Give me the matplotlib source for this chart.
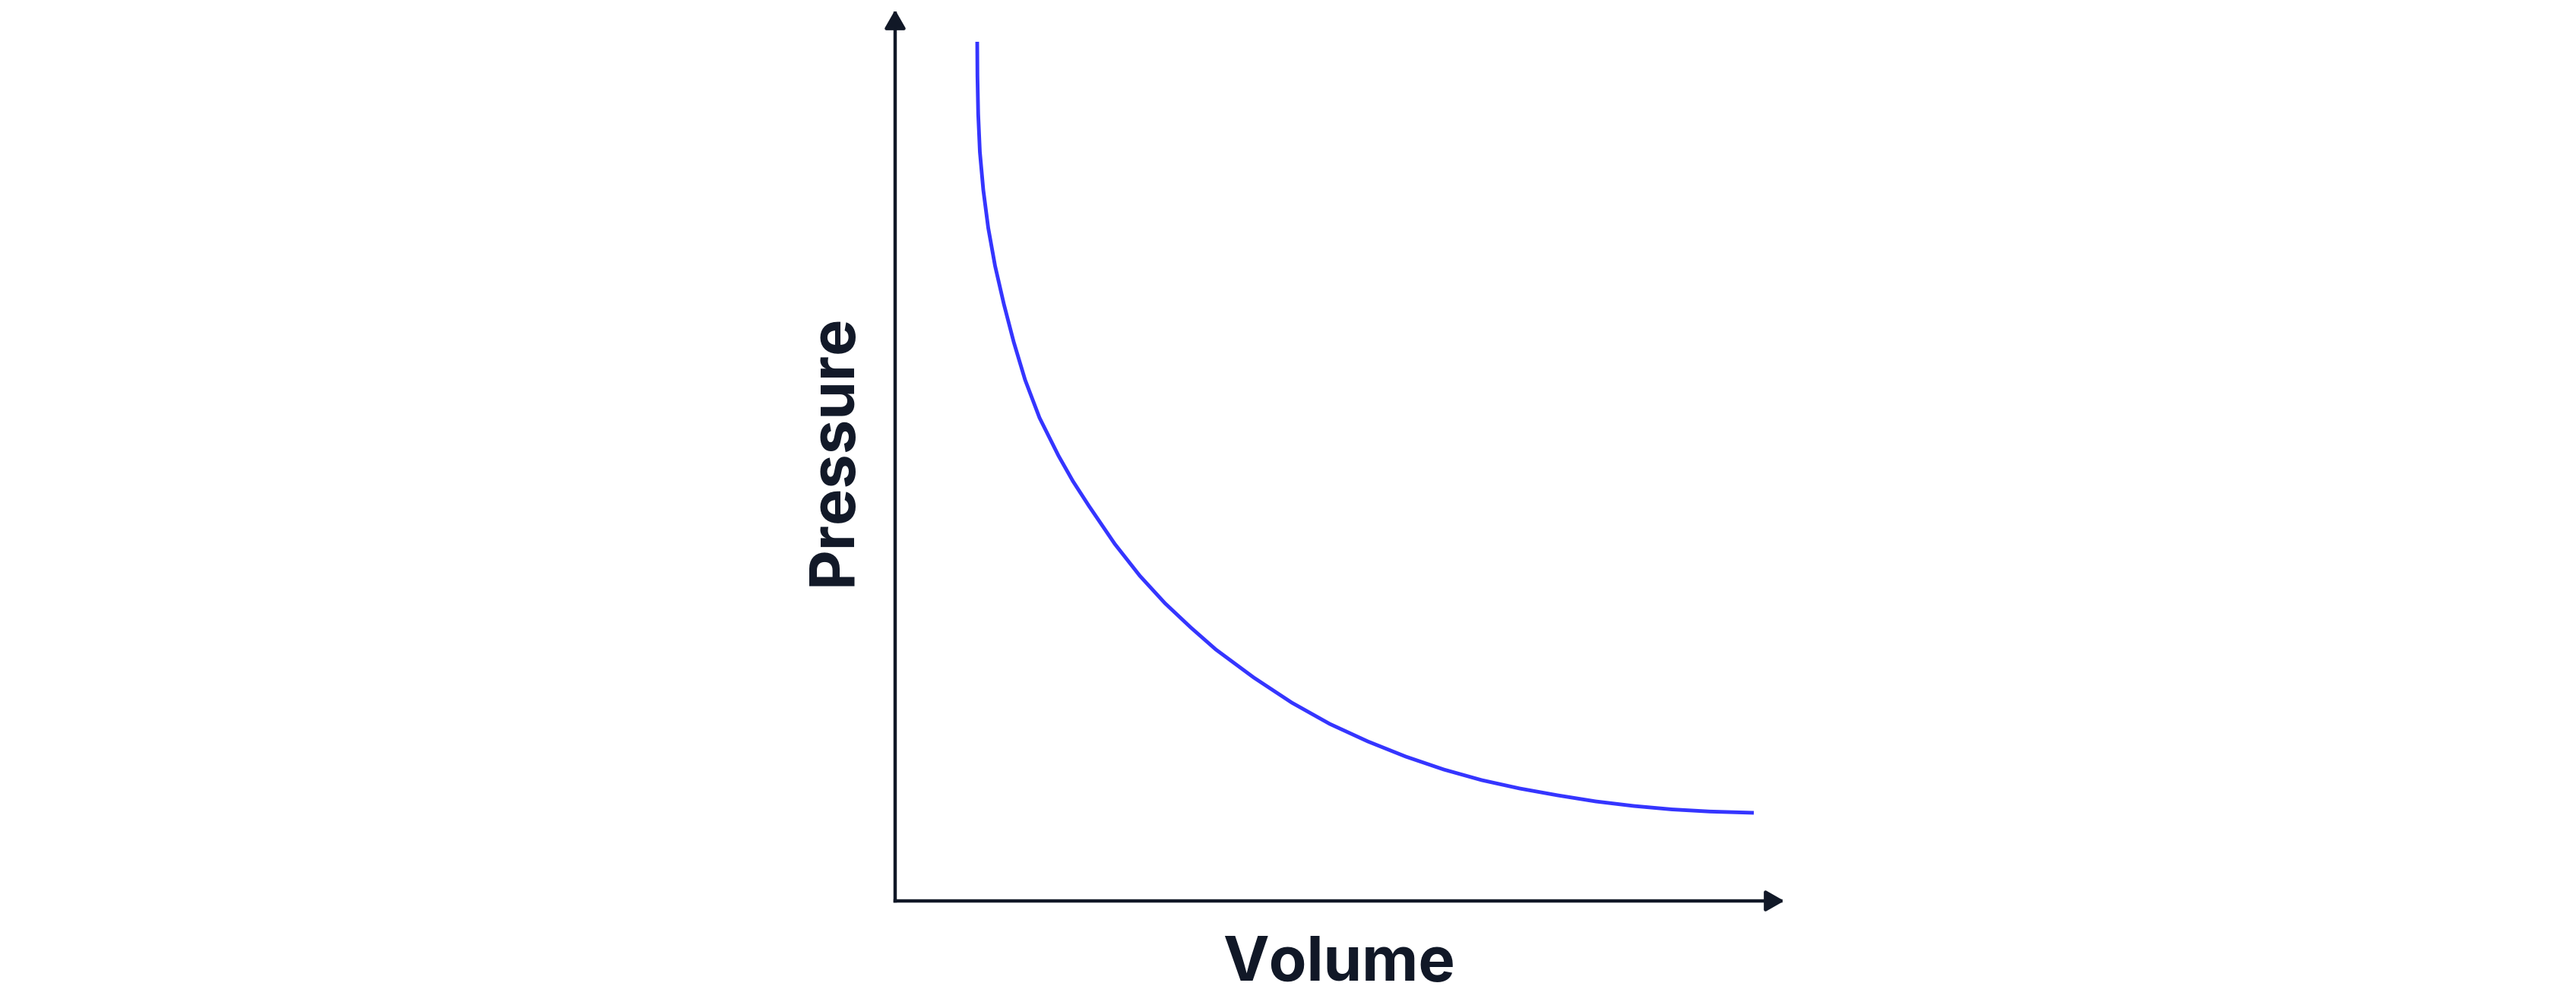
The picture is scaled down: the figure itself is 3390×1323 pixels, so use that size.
import matplotlib
matplotlib.use("Agg")
import matplotlib.pyplot as plt

# Data (arbitrary units)
volume = [1.080, 1.083, 1.093, 1.115, 1.160, 1.225, 1.315, 1.430, 1.560, 1.710,
          1.900, 2.150, 2.340, 2.550, 2.890, 3.220, 3.550, 3.890, 4.220, 4.720,
          5.220, 5.720, 6.220, 6.720, 7.220, 7.720, 8.220, 8.720, 9.220, 9.720,
          10.220, 10.720, 11.300]
pressure = [11.310, 10.860, 10.360, 9.860, 9.360, 8.860, 8.360, 7.860, 7.360, 6.860,
            6.360, 5.860, 5.525, 5.200, 4.700, 4.280, 3.920, 3.600, 3.310, 2.940,
            2.610, 2.330, 2.100, 1.900, 1.730, 1.590, 1.480, 1.390, 1.310, 1.250,
            1.205, 1.177, 1.160]
x_label = "Volume"
y_label = "Pressure"

W, H = 3390, 1323
dpi = 100
fig = plt.figure(figsize=(W / dpi, H / dpi), dpi=dpi)
fig.patch.set_facecolor("white")

ink = "#111827"
blue = "#3535ff"

# axes: origin at (1178, 1186) px from top-left; arrow tips at x=2348, y=13
left, bottom = 1178 / W, (H - 1186) / H
right, top = 2348 / W, (H - 13) / H
ax = fig.add_axes([left, bottom, right - left, top - bottom])
ax.set_xlim(0, (2348 - 1178) / 100)
ax.set_ylim(0, (1186 - 13) / 100)
ax.axis("off")

ax.plot(volume, pressure, color=blue, lw=3.5, solid_capstyle="butt",
        solid_joinstyle="round", antialiased=True, zorder=3)

arrow_kw = dict(arrowstyle="-|>,head_length=14.5,head_width=8.3",
                mutation_scale=1, lw=3.2, color=ink, shrinkA=0, shrinkB=0,
                capstyle="projecting")
ax.annotate("", xy=(1, 0), xytext=(0, 0), xycoords="axes fraction",
            textcoords="axes fraction", arrowprops=arrow_kw)
ax.annotate("", xy=(0, 1), xytext=(0, 0), xycoords="axes fraction",
            textcoords="axes fraction", arrowprops=arrow_kw)

font = dict(family=["Inter", "DejaVu Sans"], fontweight="bold",
            fontsize=58.5, color=ink)
fig.text(1762 / W, (H - 1291) / H, x_label, ha="center", va="baseline", **font)
fig.text(1120 / W, (H - 592.5) / H, y_label, ha="center", va="baseline",
         rotation=90, rotation_mode="anchor", **font)

fig.savefig("out.png", dpi=dpi, facecolor="white")
